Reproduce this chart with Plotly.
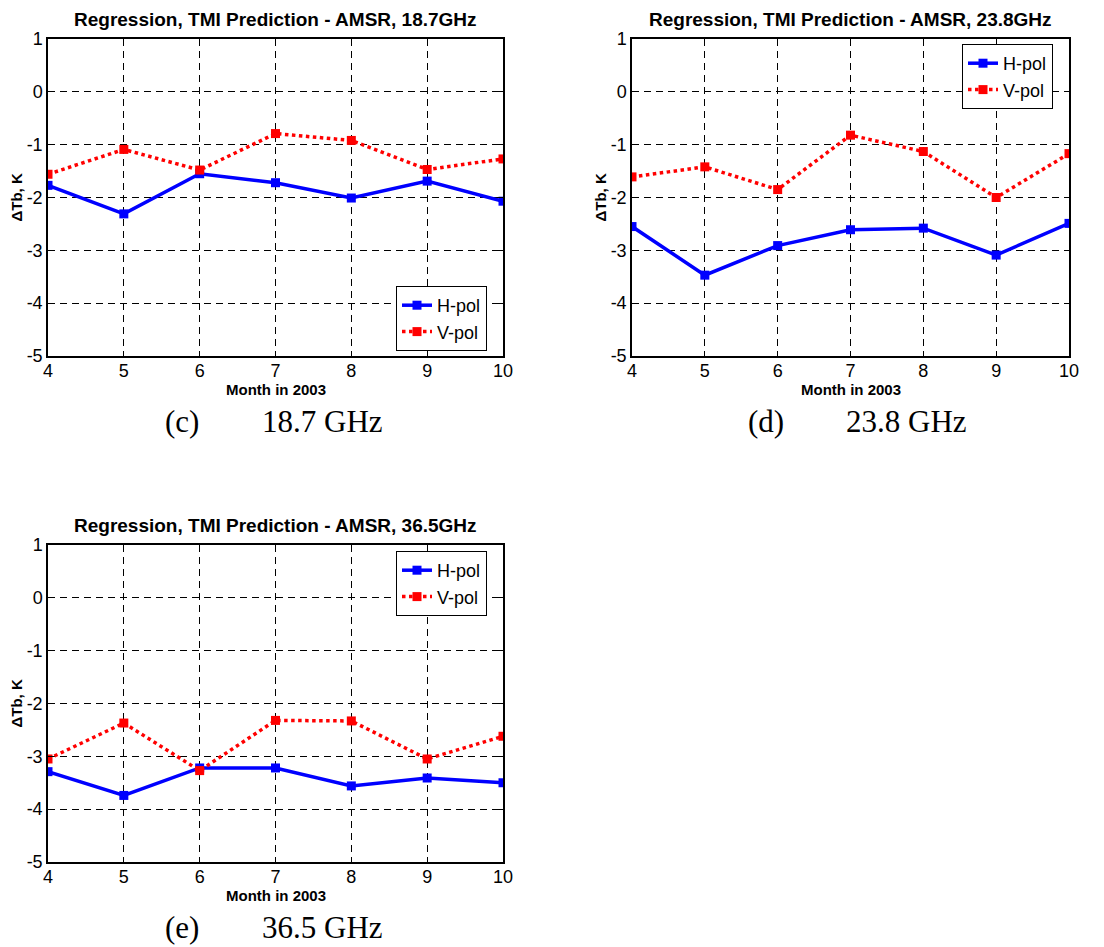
import plotly.graph_objects as go

# page body has an 8px margin; figure is sized so that it fits the window
OFF = 8
W, H = 1104 - OFF, 947 - OFF

months = [4, 5, 6, 7, 8, 9, 10]
y_ticks = [1, 0, -1, -2, -3, -4, -5]
y_tick_labels = ["1", "0", "-1", "-2", "-3", "-4", "-5"]

h_187 = [-1.77, -2.31, -1.55, -1.72, -2.01, -1.69, -2.07]
v_187 = [-1.56, -1.09, -1.48, -0.79, -0.92, -1.47, -1.27]

h_238 = [-2.55, -3.47, -2.91, -2.61, -2.58, -3.09, -2.49]
v_238 = [-1.61, -1.42, -1.85, -0.82, -1.13, -2.00, -1.17]

h_365 = [-3.29, -3.74, -3.22, -3.22, -3.56, -3.41, -3.50]
v_365 = [-3.05, -2.37, -3.27, -2.32, -2.33, -3.05, -2.62]

titles = ["Regression, TMI Prediction - AMSR, 18.7GHz",
          "Regression, TMI Prediction - AMSR, 23.8GHz",
          "Regression, TMI Prediction - AMSR, 36.5GHz"]
captions = [("(c)", "18.7 GHz"), ("(d)", "23.8 GHz"), ("(e)", "36.5 GHz")]
series = [(h_187, v_187), (h_238, v_238), (h_365, v_365)]

SANS = "Liberation Sans, Arial, sans-serif"
SERIF = "Liberation Serif, Times New Roman, serif"

# panel pixel boxes in window coordinates: (left, right, top, bottom)
boxes = [(48, 503, 39, 356), (632, 1069, 39, 356), (48, 503, 545, 862)]
# legend anchors: (x right px, y px, yanchor)
legpos = [(487, 351, "bottom"), (1053, 44, "top"), (487, 551, "top")]

fig = go.Figure()
layout = dict(width=W, height=H, margin=dict(l=0, r=0, t=0, b=0, autoexpand=False),
              paper_bgcolor="white", plot_bgcolor="white",
              font=dict(family=SANS, color="black"))
annotations = []


def px(x):
    return (x - OFF) / W


def py(y):
    return 1 - (y - OFF) / H


for i, ((l, r, t, b), (hv, vv)) in enumerate(zip(boxes, series)):
    sfx = "" if i == 0 else str(i + 1)
    leg = "legend" if i == 0 else f"legend{i+1}"
    fig.add_trace(go.Scatter(x=months, y=hv, mode="lines+markers", name="H-pol",
                             xaxis="x" + sfx, yaxis="y" + sfx, legend=leg,
                             line=dict(color="#0000FF", width=3.5),
                             marker=dict(symbol="square", size=9, color="#0000FF")))
    fig.add_trace(go.Scatter(x=months, y=vv, mode="lines+markers", name="V-pol",
                             xaxis="x" + sfx, yaxis="y" + sfx, legend=leg,
                             line=dict(color="#FF0000", width=3.5, dash="dot"),
                             marker=dict(symbol="square", size=9, color="#FF0000")))
    common = dict(showline=True, mirror="ticks", linecolor="black", linewidth=1.5,
                  ticks="inside", ticklen=5, tickcolor="black", tickwidth=1,
                  showgrid=True, gridcolor="black", gridwidth=1, griddash="7px,5px",
                  zeroline=False, automargin=False,
                  tickfont=dict(family=SANS, size=18, color="black"))
    layout["xaxis" + sfx] = dict(common, domain=[px(l), px(r)], range=[4, 10],
                                 tickvals=months, anchor="y" + sfx, ticklabelstandoff=-2)
    layout["yaxis" + sfx] = dict(common, domain=[py(b), py(t)], range=[-5, 1],
                                 tickvals=y_ticks, ticktext=y_tick_labels,
                                 anchor="x" + sfx, ticklabelstandoff=0)
    lx, ly, ya = legpos[i]
    layout[leg] = dict(x=px(lx), y=py(ly), xanchor="right", yanchor=ya,
                       bordercolor="black", borderwidth=1, bgcolor="white",
                       font=dict(family=SANS, size=18, color="black"),
                       itemwidth=30, tracegroupgap=0)
    cx = (l + r) / 2
    annotations.append(dict(text="<b>" + titles[i] + "</b>", x=px(cx), y=py(t - 20),
                            xref="paper", yref="paper", showarrow=False,
                            xanchor="center", yanchor="middle",
                            font=dict(family=SANS, size=19, color="black")))
    annotations.append(dict(text="<b>Month in 2003</b>", x=px(cx), y=py(b + 33),
                            xref="paper", yref="paper", showarrow=False,
                            xanchor="center", yanchor="middle",
                            font=dict(family=SANS, size=15, color="black")))
    annotations.append(dict(text="<b>ΔTb, K</b>", x=px(l - 32), y=py((t + b) / 2),
                            xref="paper", yref="paper", showarrow=False, textangle=-90,
                            xanchor="center", yanchor="middle",
                            font=dict(family=SANS, size=15, color="black")))
    cap1, cap2 = captions[i]
    annotations.append(dict(text=cap1, x=px(l + 134), y=py(b + 65),
                            xref="paper", yref="paper", showarrow=False,
                            xanchor="center", yanchor="middle",
                            font=dict(family=SERIF, size=31, color="black")))
    annotations.append(dict(text=cap2, x=px(l + 274), y=py(b + 65),
                            xref="paper", yref="paper", showarrow=False,
                            xanchor="center", yanchor="middle",
                            font=dict(family=SERIF, size=31, color="black")))

layout["annotations"] = annotations
fig.update_layout(**layout)
fig.write_html("out.html")
